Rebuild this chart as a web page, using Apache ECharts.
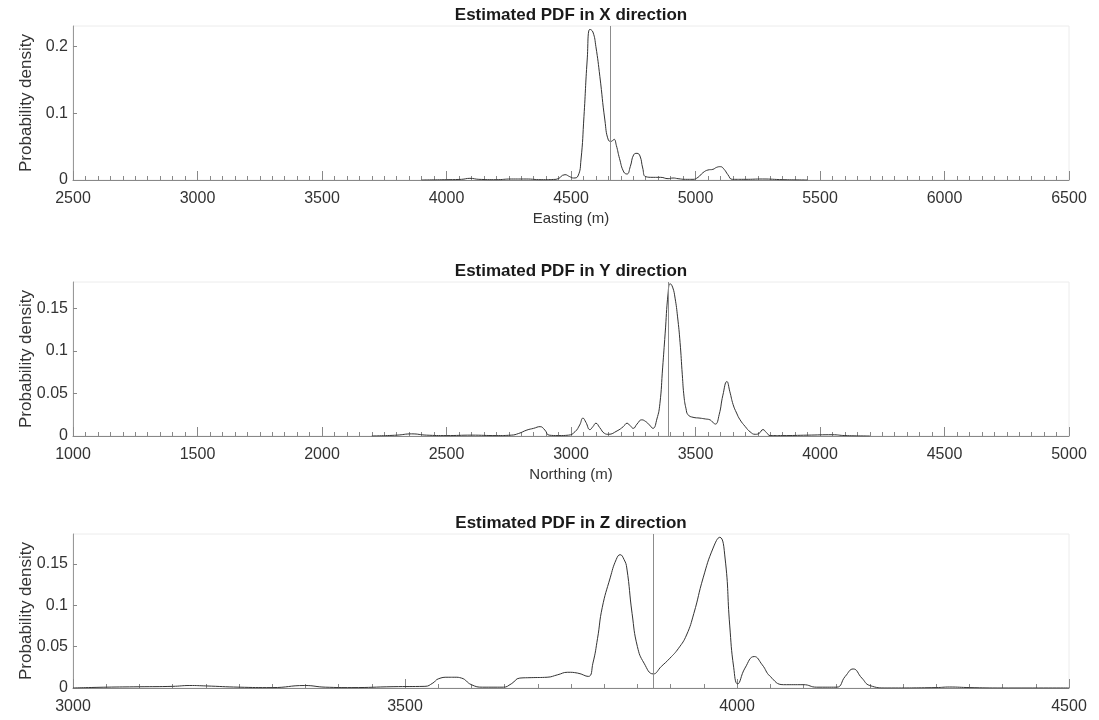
<!DOCTYPE html>
<html>
<head>
<meta charset="utf-8">
<title>Estimated PDF</title>
<script src="https://cdn.jsdelivr.net/npm/echarts@6/dist/echarts.min.js"></script>
<style>
  html, body { margin: 0; padding: 0; background: #fff; }
  #pdf { width: 1099px; height: 720px; }
</style>
</head>
<body>
<div id="pdf"></div>
<script>
// Easting (X) density estimate
const eastingX = [3900, 4000, 4060, 4094, 4130, 4200, 4260, 4320, 4380, 4440, 4476, 4495, 4510, 4528, 4540, 4552, 4565, 4576, 4588, 4600, 4616, 4636, 4650, 4662, 4673, 4682, 4695, 4712, 4725, 4738, 4752, 4765, 4777, 4788, 4800, 4830, 4860, 4890, 4910, 4930, 4960, 4990, 5010, 5030, 5050, 5070, 5085, 5100, 5115, 5130, 5148, 5200, 5270, 5350, 5450];
const eastingPdf = [0, 0.0005, 0.001, 0.0025, 0.001, 0.0005, 0.0015, 0.0015, 0.0005, 0.001, 0.008, 0.005, 0.003, 0.006, 0.03, 0.095, 0.18, 0.226, 0.222, 0.2, 0.155, 0.09, 0.06, 0.058, 0.061, 0.052, 0.032, 0.012, 0.009, 0.02, 0.038, 0.04, 0.036, 0.018, 0.005, 0.004, 0.004, 0.002, 0.003, 0.002, 0.001, 0.001, 0.004, 0.011, 0.015, 0.016, 0.019, 0.02, 0.016, 0.008, 0.001, 0.001, 0.0015, 0.0005, 0];
const eastingMark = 4657;

// Northing (Y) density estimate
const northingX = [2200, 2300, 2360, 2420, 2500, 2600, 2700, 2760, 2790, 2823, 2850, 2876, 2895, 2912, 2950, 2990, 3016, 3035, 3048, 3060, 3076, 3088, 3100, 3115, 3135, 3150, 3185, 3210, 3225, 3238, 3250, 3265, 3284, 3300, 3315, 3329, 3345, 3357, 3368, 3378, 3390, 3398, 3408, 3418, 3428, 3438, 3447, 3454, 3462, 3470, 3490, 3518, 3540, 3558, 3570, 3580, 3595, 3610, 3626, 3638, 3651, 3665, 3679, 3700, 3719, 3740, 3755, 3771, 3785, 3800, 3850, 3950, 4050, 4100, 4200];
const northingPdf = [0, 0.001, 0.0025, 0.001, 0.0005, 0.001, 0.0005, 0.001, 0.003, 0.007, 0.009, 0.011, 0.007, 0.001, 0.0005, 0.001, 0.005, 0.013, 0.021, 0.016, 0.0075, 0.011, 0.015, 0.01, 0.003, 0.002, 0.006, 0.011, 0.015, 0.012, 0.009, 0.014, 0.019, 0.017, 0.013, 0.009, 0.02, 0.038, 0.08, 0.12, 0.168, 0.179, 0.175, 0.162, 0.14, 0.11, 0.072, 0.046, 0.032, 0.025, 0.022, 0.021, 0.02, 0.019, 0.016, 0.014, 0.025, 0.048, 0.064, 0.052, 0.037, 0.027, 0.019, 0.011, 0.005, 0.002, 0.003, 0.0075, 0.004, 0.0005, 0.0005, 0.001, 0.0015, 0.0005, 0];
const northingMark = 3390;

// Depth (Z) density estimate
const depthX = [3000, 3050, 3100, 3150, 3176, 3200, 3250, 3300, 3349, 3380, 3420, 3482, 3530, 3542, 3550, 3565, 3575, 3585, 3600, 3617, 3648, 3660, 3673, 3690, 3714, 3730, 3745, 3760, 3776, 3783, 3790, 3797, 3809, 3818, 3824, 3830, 3834, 3842, 3850, 3860, 3874, 3886, 3899, 3912, 3924, 3935, 3949, 3964, 3974, 3982, 3989, 3995, 4001, 4012, 4026, 4038, 4050, 4070, 4100, 4120, 4150, 4163, 4175, 4188, 4200, 4226, 4300, 4320, 4350, 4400, 4500];
const depthPdf = [0, 0.001, 0.0015, 0.002, 0.003, 0.0025, 0.001, 0.0005, 0.003, 0.001, 0.0005, 0.0016, 0.002, 0.006, 0.011, 0.013, 0.013, 0.012, 0.004, 0.001, 0.001, 0.005, 0.012, 0.0125, 0.013, 0.016, 0.019, 0.018, 0.014, 0.03, 0.06, 0.097, 0.133, 0.155, 0.161, 0.155, 0.145, 0.09, 0.05, 0.03, 0.017, 0.026, 0.036, 0.048, 0.064, 0.09, 0.133, 0.169, 0.182, 0.157, 0.076, 0.025, 0.005, 0.024, 0.038, 0.028, 0.014, 0.004, 0.004, 0.001, 0.001, 0.014, 0.023, 0.012, 0.003, 0, 0.0005, 0.0012, 0.0005, 0, 0];
const depthMark = 3874;

const panelTitles = ['Estimated PDF in X direction', 'Estimated PDF in Y direction', 'Estimated PDF in Z direction'];
const xNames = ['Easting (m)', 'Northing (m)', ''];
const xRanges = [[2500, 6500], [1000, 5000], [3000, 4500]];
const yMaxes = [0.231, 0.181, 0.186];
const yIntervals = [0.1, 0.05, 0.05];

const font = "'Liberation Sans', Arial, Helvetica, sans-serif";
const gridTops = [26, 282, 534];
const gridHeight = 154;

const zip = (xs, ys) => xs.map((x, i) => [x, ys[i]]);
const curves = [zip(eastingX, eastingPdf), zip(northingX, northingPdf), zip(depthX, depthPdf)];
const marks = [eastingMark, northingMark, depthMark];

const chart = echarts.init(document.getElementById('pdf'));

const option = {
  animation: false,
  backgroundColor: '#fff',
  textStyle: { fontFamily: font },
  title: panelTitles.map((t, i) => ({
    text: t,
    left: 571,
    top: gridTops[i] - 19,
    textAlign: 'center',
    padding: 0,
    textStyle: { fontFamily: font, fontSize: 17, fontWeight: 'bold', color: '#1a1a1a' },
  })),
  grid: gridTops.map(top => ({
    left: 73,
    right: 30,
    top: top,
    height: gridHeight,
    show: true,
    borderColor: '#ececec',
    borderWidth: 1,
  })),
  xAxis: xRanges.map((r, i) => ({
    type: 'value',
    gridIndex: i,
    min: r[0],
    max: r[1],
    interval: 500,
    name: xNames[i],
    nameLocation: 'middle',
    nameGap: 31,
    nameTextStyle: { fontFamily: font, fontSize: 15, color: '#333' },
    axisLine: { show: true, lineStyle: { color: '#888', width: 1 } },
    axisTick: { show: true, inside: true, length: 9, lineStyle: { color: '#888' } },
    minorTick: { show: true, splitNumber: 10, length: 4, lineStyle: { color: '#888' } },
    axisLabel: { fontFamily: font, fontSize: 16, color: '#333', margin: 11, formatter: v => String(v) },
    splitLine: { show: false },
  })),
  yAxis: yMaxes.map((m, i) => ({
    type: 'value',
    gridIndex: i,
    min: 0,
    max: m,
    interval: yIntervals[i],
    name: 'Probability density',
    nameLocation: 'middle',
    nameGap: 38,
    nameMoveOverlap: false,
    nameTextStyle: { fontFamily: font, fontSize: 17, color: '#333' },
    axisLine: { show: true, lineStyle: { color: '#999', width: 1 } },
    axisTick: { show: true, inside: true, length: 4, lineStyle: { color: '#888' } },
    axisLabel: { fontFamily: font, fontSize: 16, color: '#333', margin: 5, showMaxLabel: false },
    splitLine: { show: false },
  })),
  series: curves.map((d, i) => ({
    type: 'line',
    xAxisIndex: i,
    yAxisIndex: i,
    data: d,
    smooth: 0.5,
    showSymbol: false,
    lineStyle: { color: '#333', width: 1 },
    markLine: {
      silent: true,
      symbol: 'none',
      label: { show: false },
      lineStyle: { color: '#8c8c8c', width: 1, type: 'solid' },
      data: [{ xAxis: marks[i] }],
    },
  })),
};

chart.setOption(option);
</script>
</body>
</html>
